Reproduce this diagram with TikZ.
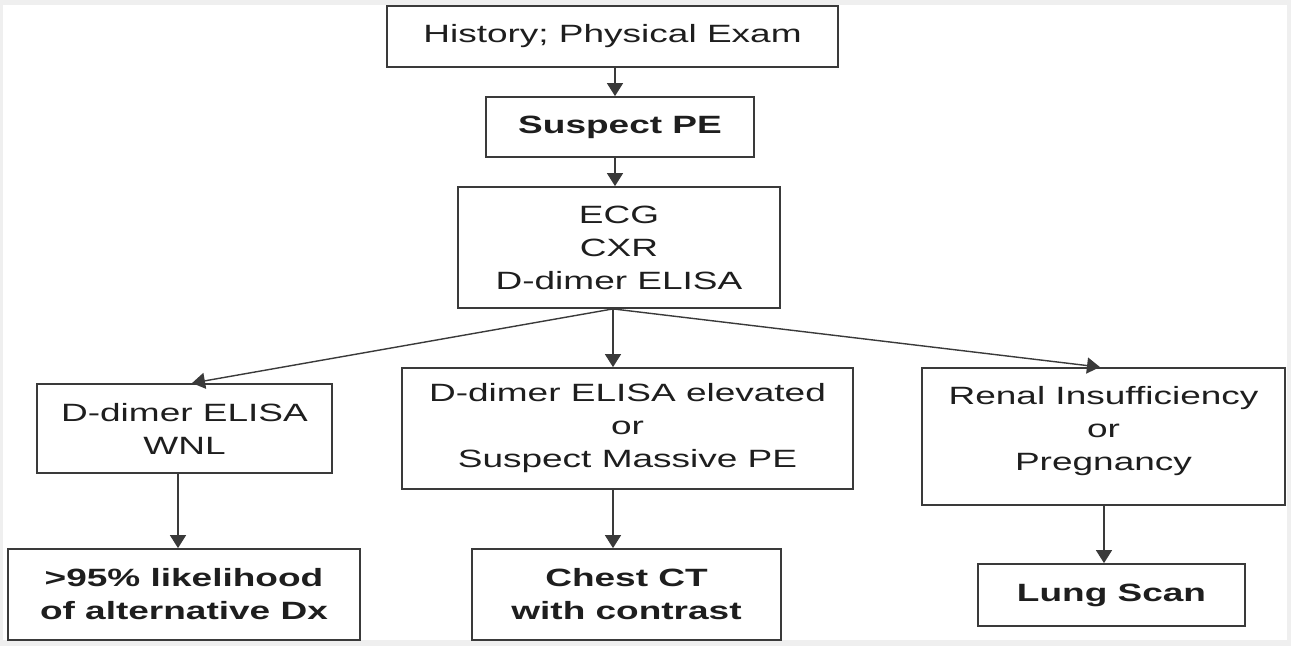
\documentclass[tikz,border=0pt]{standalone}
\usepackage{fontspec}
\setmainfont{Liberation Sans}[FakeStretch=1.48]
\usetikzlibrary{arrows.meta}
\definecolor{framegray}{HTML}{EFEFEF}
\definecolor{linegray}{HTML}{3A3A3A}
\definecolor{txt}{HTML}{1E1E1E}
\tikzset{
  box/.style={draw=linegray, line width=1.8pt, fill=white, inner sep=0pt,
    align=center, text=txt, font=\fontsize{25}{33}\selectfont},
  boldbox/.style={box, font=\fontsize{25}{33}\selectfont\bfseries},
  arr/.style={draw=linegray, line width=1.4pt, -{Triangle[width=16pt,length=13pt]}},
}
\begin{document}
\begin{tikzpicture}[x=1pt,y=-1pt]
  \fill[framegray] (0,0) rectangle (1291,646);
  \fill[white] (3,5) rectangle (1287,640);
  \useasboundingbox (0,0) rectangle (1291,646);

  \node[box, minimum width=451pt, minimum height=61pt] (hist) at (612.5,36.5) {History; Physical Exam};
  \node[boldbox, minimum width=268pt, minimum height=60pt] (susp) at (620,127) {Suspect PE};
  \node[box, minimum width=322pt, minimum height=121pt] (ecg) at (619,247.5) {ECG\\CXR\\D-dimer ELISA};
  \node[box, minimum width=295pt, minimum height=89pt] (wnl) at (184.5,428.5) {D-dimer ELISA\\WNL};
  \node[box, minimum width=451pt, minimum height=121pt] (elev) at (627.5,428.5) {D-dimer ELISA elevated\\or\\Suspect Massive PE};
  \node[box, minimum width=363pt, minimum height=137pt] (renal) at (1103.5,436.5) {Renal Insufficiency\\or\\Pregnancy\rule[-16pt]{0pt}{16pt}};
  \node[boldbox, minimum width=352pt, minimum height=91pt] (alt) at (184,594.5) {>95\% likelihood\\of alternative Dx};
  \node[boldbox, minimum width=309pt, minimum height=91pt] (ct) at (626.5,594.5) {Chest CT\\with contrast};
  \node[boldbox, minimum width=267pt, minimum height=62pt] (lung) at (1111.5,595) {Lung Scan};

  \draw[arr] ([xshift=2.5pt]hist.south) -- ([xshift=2.5pt]hist.south |- susp.north);
  \draw[arr] ([xshift=-5pt]susp.south) -- ([xshift=-5pt]susp.south |- ecg.north);
  \draw[arr] ([xshift=-6pt]ecg.south) -- ([xshift=7.5pt]wnl.north);
  \draw[arr] ([xshift=-6pt]ecg.south) -- ([xshift=-6pt]ecg.south |- elev.north);
  \draw[arr] ([xshift=-6pt]ecg.south) -- ([xshift=-3.5pt]renal.north);
  \draw[arr] ([xshift=-6.5pt]wnl.south) -- ([xshift=-6.5pt]wnl.south |- alt.north);
  \draw[arr] ([xshift=-14.5pt]elev.south) -- ([xshift=-14.5pt]elev.south |- ct.north);
  \draw[arr] ([xshift=0.5pt]renal.south) -- ([xshift=0.5pt]renal.south |- lung.north);
\end{tikzpicture}
\end{document}
